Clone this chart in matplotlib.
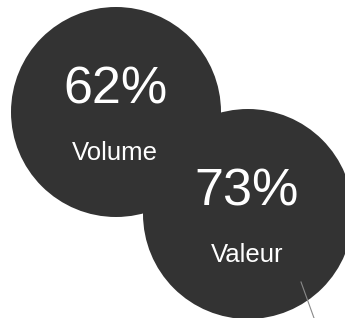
import matplotlib.pyplot as plt
from matplotlib.patches import Circle

plt.rcParams['font.family'] = ['Liberation Sans', 'DejaVu Sans']

labels = ['Volume', 'Valeur']
values = [62, 73]

# bubble centres in pixel space (layout only)
centres = [(116, 112), (248, 214)]
radius = 105

fig = plt.figure(figsize=(3.45, 3.18), dpi=100)
ax = fig.add_axes([0, 0, 1, 1])
ax.set_xlim(0, 345)
ax.set_ylim(318, 0)
ax.set_aspect('equal')
ax.axis('off')

for (cx, cy), lab, v in zip(centres, labels, values):
    ax.add_patch(Circle((cx, cy), radius, color='#333333', lw=0))
    ax.text(cx - 1, cy - 8, f'{v}%', color='white', fontsize=37.5,
            ha='center', va='baseline')
    ax.text(cx - 1, cy + 48, lab, color='white', fontsize=18.5,
            ha='center', va='baseline')

# thin leader line
ax.plot([301, 314], [282, 318], color='#8a8a8a', lw=0.8)

fig.savefig('out.png', dpi=100)
